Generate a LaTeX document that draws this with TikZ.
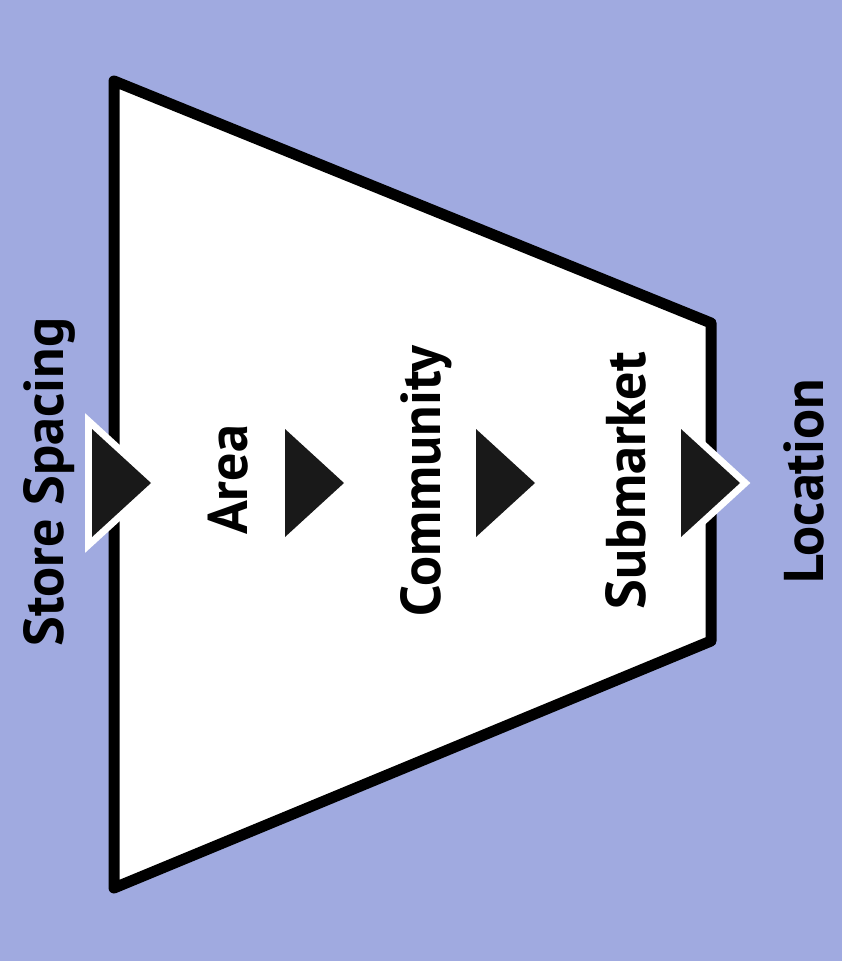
\documentclass[tikz,border=0pt]{standalone}
\usepackage{fontspec}
\setmainfont{PT Sans}
\usepackage{tikz}

\definecolor{funnelbg}{RGB}{160,170,224}

\tikzset{
  label/.style={rotate=90,anchor=base,inner sep=0pt,font=\fontsize{56}{60}\selectfont\bfseries},
  funnel/.style={draw=black,fill=white,line width=11pt,line join=round},
  pointer/.style={fill=black!90},
  halo/.style={draw=white,line width=14pt,line join=miter}
}

\begin{document}
\begin{tikzpicture}[x=1pt,y=-1pt]
   \fill[funnelbg] (0,0) rectangle (842,961);
   \useasboundingbox (0,0) rectangle (842,961);
   % the funnel
   \draw[funnel] (114,81) -- (711,323) -- (711,641) -- (114,888) -- cycle;
   % pointers, the outer two with a white rim
   \foreach \px/\rim in {92/1,285/0,476/0,681/1}{
      \ifnum\rim=1
        \draw[halo] (\px,429) -- (\px+59,483) -- (\px,537) -- cycle;
      \fi
      \fill[pointer] (\px,429) -- (\px+59,483) -- (\px,537) -- cycle;
   }
   \node [label] (spacing) at (63,482) {Store Spacing};
   \node [label] (area) at (247,480) {Area};
   \node [label] (community) at (440,481) {Community};
   \node [label] (submarket) at (645,481) {Submarket};
   \node [label] (location) at (823,481) {Location};
\end{tikzpicture}
\end{document}
